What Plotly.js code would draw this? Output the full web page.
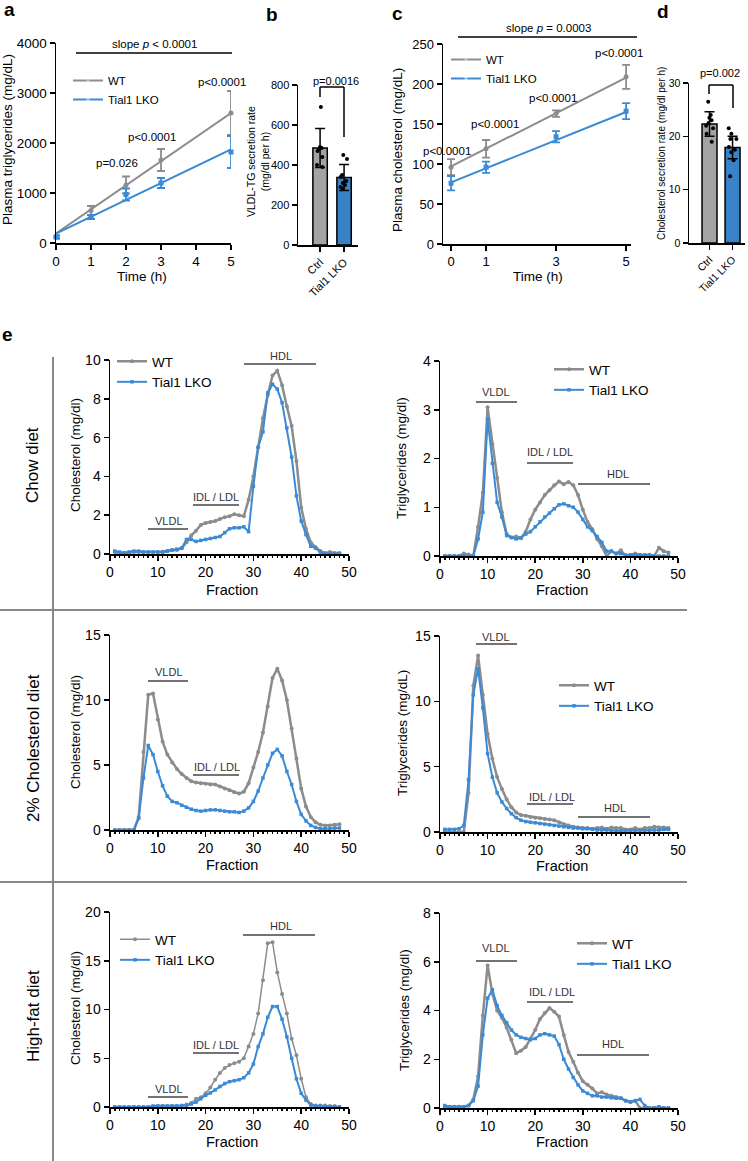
<!DOCTYPE html>
<html>
<head>
<meta charset="utf-8">
<script src="https://cdn.plot.ly/plotly-3.0.1.min.js"></script>
<style>html,body{margin:0;padding:0;background:#fff;}#chart{width:748px;height:1161px;}</style>
</head>
<body>
<div id="chart"></div>
<script>
// ---------- DATA ----------
// Panel a: plasma TG over time
const aTime = [0, 1, 2, 3, 5];
const aWT = [120, 650, 1160, 1660, 2600];
const aWTsd = [30, 90, 170, 220, 440];
const aKO = [120, 520, 970, 1200, 1820];
const aKOsd = [30, 40, 120, 100, 320];
const aFitTime = [0, 5];
const aWTfit = [190, 2600];
const aKOfit = [190, 1870];

// Panel b: VLDL-TG secretion rate
const groupCats = ['Ctrl', 'Tial1 LKO'];
const bMeans = [485, 338];
const bSD = [98, 65];
const bCtrlPts = [690, 490, 485, 480, 470, 440, 400, 390];
const bKOPts = [450, 430, 350, 340, 320, 310, 300, 290, 280];

// Panel c: plasma cholesterol over time
const cTime = [0, 1, 3, 5];
const cWT = [96, 119, 163, 209];
const cWTsd = [10, 11, 4, 15];
const cKO = [76, 96, 134, 166];
const cKOsd = [9, 7, 7, 10];
const cFitTime = [0, 5];
const cWTfit = [97, 208];
const cKOfit = [77, 165];

// Panel d: cholesterol secretion rate
const dMeans = [22.3, 17.9];
const dSD = [2.3, 2.1];
const dCtrlPts = [26.5, 24, 23.5, 23, 22.5, 22, 21.5, 20.5, 19.0];
const dKOPts = [21.5, 20.5, 19.5, 19.5, 18, 17.5, 17, 15.5, 12.5];

// Panel e: FPLC fractions
const fractions = [1,2,3,4,5,6,7,8,9,10,11,12,13,14,15,16,17,18,19,20,21,22,23,24,25,26,27,28,29,30,31,32,33,34,35,36,37,38,39,40,41,42,43,44,45,46,47,48];

const chowCholWT = [0.1,0.05,0.05,0.08,0.1,0.1,0.1,0.1,0.1,0.1,
  0.12,0.15,0.2,0.2,0.3,0.6,0.95,1.2,1.5,1.6,
  1.65,1.7,1.8,1.9,1.95,2.05,2.0,1.95,2.8,4.0,
  5.5,7.0,8.2,9.2,9.45,8.7,7.6,6.6,4.8,2.4,
  1.3,0.6,0.35,0.15,0.05,0.1,0.05,0.05];
const chowCholKO = [0.15,0.1,0.05,0.1,0.15,0.15,0.1,0.1,0.1,0.1,
  0.1,0.15,0.2,0.25,0.3,0.75,0.75,0.65,0.7,0.75,
  0.8,0.85,0.9,1.1,1.3,1.35,1.35,1.4,1.15,3.5,
  5.5,6.3,8.3,8.75,8.5,7.8,6.5,5.0,3.0,1.7,
  1.0,0.4,0.3,0.1,0.0,0.0,0.0,0.0];
const chowTGWT = [0,0,0,0,0.05,0.03,0,0.6,1.3,3.05,
  2.3,1.6,0.9,0.45,0.38,0.4,0.37,0.5,0.75,0.95,
  1.1,1.25,1.35,1.45,1.53,1.47,1.52,1.45,1.25,0.95,
  0.7,0.55,0.35,0.2,0.0,0.1,0.05,0.12,0.0,0.02,
  0.05,0.02,0.02,0.02,0.0,0.17,0.1,0.07];
const chowTGKO = [0,0,0,0,0,0,0,0.35,0.9,2.8,
  1.9,1.1,0.8,0.42,0.38,0.35,0.37,0.45,0.5,0.6,
  0.7,0.8,0.88,0.97,1.05,1.07,1.03,1.0,0.9,0.75,
  0.6,0.52,0.4,0.28,0.1,0.1,0.05,0.05,0.02,0.02,
  0.02,0.02,0.02,0.02,0,0,0,0];

const cholDietCholWT = [0,0,0,0,0,1.0,6.0,10.4,10.5,8.5,
  6.8,5.8,5.2,4.7,4.3,4.0,3.75,3.65,3.6,3.55,
  3.5,3.5,3.35,3.2,3.05,2.9,2.8,2.95,3.6,4.8,
  6.0,7.5,9.5,11.7,12.4,11.5,10.0,7.8,5.5,3.2,
  1.8,1.0,0.6,0.4,0.35,0.35,0.4,0.45];
const cholDietCholKO = [0,0,0,0,0,0.9,4.0,6.5,5.8,4.5,
  3.4,2.6,2.2,2.1,1.9,1.75,1.6,1.5,1.45,1.5,
  1.55,1.55,1.5,1.45,1.4,1.4,1.35,1.45,1.7,2.2,
  3.0,4.0,5.0,5.9,6.2,5.7,4.5,3.5,2.2,1.2,
  0.7,0.35,0.2,0.1,0.1,0.1,0.15,0.15];
const cholDietTGWT = [0,0,0,0,0,3.0,11.2,13.5,10.5,7.5,
  5.6,4.2,3.3,2.5,1.9,1.5,1.3,1.25,1.15,1.1,
  1.05,1.0,0.95,0.9,0.75,0.6,0.5,0.4,0.35,0.3,
  0.3,0.25,0.3,0.35,0.25,0.35,0.3,0.3,0.2,0.2,
  0.3,0.2,0.3,0.3,0.4,0.35,0.35,0.3];
const cholDietTGKO = [0.2,0.2,0.2,0.25,0.5,4.0,10.5,12.5,9.5,6.0,
  4.2,3.0,2.3,1.8,1.4,1.1,0.9,0.8,0.75,0.7,
  0.65,0.6,0.55,0.5,0.45,0.4,0.35,0.3,0.3,0.25,
  0.25,0.2,0.15,0.15,0.15,0.1,0.1,0.1,0.1,0.1,
  0.1,0.1,0.1,0.1,0.15,0.15,0.2,0.2];

const hfdCholWT = [0,0,0,0,0,0,0,0,0.05,0.1,
  0.1,0.1,0.1,0.1,0.15,0.25,0.4,0.85,1.0,1.4,
  2.0,2.8,3.5,4.0,4.3,4.5,4.65,5.0,6.2,7.5,
  9.6,13.0,16.8,16.9,13.8,11.6,9.6,7.0,5.3,2.9,
  1.0,0.3,0.15,0.15,0.15,0.1,0.1,0.0];
const hfdCholKO = [0,0,0,0,0,0,0,0,0.1,0.1,
  0.1,0.1,0.1,0.1,0.1,0.15,0.3,0.5,0.85,1.2,
  1.45,1.75,2.1,2.4,2.6,2.7,2.8,3.0,3.5,4.4,
  6.2,7.5,9.2,10.3,10.3,9.0,7.2,5.0,2.9,1.4,
  0.7,0.2,0.1,0.1,0.05,0,0,0];
const hfdTGWT = [0.05,0.05,0.05,0.05,0.05,0.1,0.35,1.3,3.8,5.85,
  4.7,4.0,3.7,3.3,2.8,2.25,2.35,2.5,2.85,3.2,
  3.65,3.9,4.1,3.95,3.75,3.0,2.3,1.9,1.45,1.1,
  0.95,0.8,0.6,0.65,0.55,0.5,0.45,0.4,0.3,0.25,
  0.3,0.0,0,0,0,0,0,0];
const hfdTGKO = [0.1,0.05,0.05,0.05,0.05,0.1,0.3,0.9,3.0,4.5,
  4.85,4.2,3.8,3.5,3.2,3.0,2.9,2.85,2.8,2.85,
  3.0,3.05,3.0,2.95,2.6,2.0,1.6,1.25,0.95,0.7,
  0.6,0.5,0.5,0.45,0.45,0.42,0.4,0.4,0.3,0.25,
  0.3,0.35,0.1,0,0,0.05,0,0];

// ---------- STYLE / LAYOUT ----------
const W = 748, H = 1161;
const FONT = 'Liberation Sans, Arial, Helvetica, sans-serif';
const GRAY = '#8c8c8c', BLUE = '#3a8ad6';
const BARGRAY = '#a3a3a3', BARBLUE = '#3a82c8';
const X = p => p / W;
const Y = p => 1 - p / H;
const tf = s => ({size: s, color: '#000', family: FONT});

function axis(extra) {
  return Object.assign({
    showgrid: false, zeroline: false, showline: true, linecolor: '#000', linewidth: 1.5,
    ticks: 'outside', ticklen: 5, tickwidth: 1.5, tickcolor: '#000', fixedrange: true,
    tickfont: tf(13)
  }, extra);
}
function xdom(a, b) { return [X(a), X(b)]; }
function ydom(bottom, top) { return [Y(bottom), Y(top)]; }

const traces = [];

// Panel a
traces.push({x: aFitTime, y: aWTfit, xaxis: 'x', yaxis: 'y', mode: 'lines+markers', name: 'WT',
  line: {color: GRAY, width: 2}, marker: {color: GRAY, size: [0, 0], symbol: 'circle'}, legend: 'legend', hoverinfo: 'skip'});
traces.push({x: aFitTime, y: aKOfit, xaxis: 'x', yaxis: 'y', mode: 'lines+markers', name: 'Tial1 LKO',
  line: {color: BLUE, width: 2}, marker: {color: BLUE, size: [0, 0], symbol: 'square'}, legend: 'legend', hoverinfo: 'skip'});
traces.push({x: aTime, y: aWT, xaxis: 'x', yaxis: 'y', mode: 'markers', showlegend: false, cliponaxis: false,
  marker: {color: GRAY, size: 5, symbol: 'circle'},
  error_y: {type: 'data', array: aWTsd, color: GRAY, thickness: 1.8, width: 4}, hoverinfo: 'skip'});
traces.push({x: aTime, y: aKO, xaxis: 'x', yaxis: 'y', mode: 'markers', showlegend: false, cliponaxis: false,
  marker: {color: BLUE, size: 5, symbol: 'square'},
  error_y: {type: 'data', array: aKOsd, color: BLUE, thickness: 1.8, width: 4}, hoverinfo: 'skip'});

// Panel b
traces.push({type: 'bar', x: groupCats, y: bMeans, xaxis: 'x2', yaxis: 'y2', width: 0.6, showlegend: false,
  marker: {color: [BARGRAY, BARBLUE], line: {color: '#000', width: 1.5}},
  error_y: {type: 'data', array: bSD, color: '#000', thickness: 1.5, width: 5}, hoverinfo: 'skip'});
traces.push({type: 'box', x: bCtrlPts.map(() => groupCats[0]).concat(bKOPts.map(() => groupCats[1])),
  y: bCtrlPts.concat(bKOPts), xaxis: 'x2', yaxis: 'y2', boxpoints: 'all', jitter: 0.8, pointpos: 0,
  width: 0.5, whiskerwidth: 0, fillcolor: 'rgba(0,0,0,0)', line: {width: 0, color: 'rgba(0,0,0,0)'},
  marker: {color: '#000', size: 4}, showlegend: false, hoverinfo: 'skip'});

// Panel c
traces.push({x: cFitTime, y: cWTfit, xaxis: 'x3', yaxis: 'y3', mode: 'lines+markers', name: 'WT',
  line: {color: GRAY, width: 2}, marker: {color: GRAY, size: [0, 0], symbol: 'circle'}, legend: 'legend2', hoverinfo: 'skip'});
traces.push({x: cFitTime, y: cKOfit, xaxis: 'x3', yaxis: 'y3', mode: 'lines+markers', name: 'Tial1 LKO',
  line: {color: BLUE, width: 2}, marker: {color: BLUE, size: [0, 0], symbol: 'square'}, legend: 'legend2', hoverinfo: 'skip'});
traces.push({x: cTime, y: cWT, xaxis: 'x3', yaxis: 'y3', mode: 'markers', showlegend: false, cliponaxis: false,
  marker: {color: GRAY, size: 5, symbol: 'circle'},
  error_y: {type: 'data', array: cWTsd, color: GRAY, thickness: 1.8, width: 4}, hoverinfo: 'skip'});
traces.push({x: cTime, y: cKO, xaxis: 'x3', yaxis: 'y3', mode: 'markers', showlegend: false, cliponaxis: false,
  marker: {color: BLUE, size: 5, symbol: 'square'},
  error_y: {type: 'data', array: cKOsd, color: BLUE, thickness: 1.8, width: 4}, hoverinfo: 'skip'});

// Panel d
traces.push({type: 'bar', x: groupCats, y: dMeans, xaxis: 'x4', yaxis: 'y4', width: 0.65, showlegend: false,
  marker: {color: [BARGRAY, BARBLUE], line: {color: '#000', width: 1.5}},
  error_y: {type: 'data', array: dSD, color: '#000', thickness: 1.5, width: 5}, hoverinfo: 'skip'});
traces.push({type: 'box', x: dCtrlPts.map(() => groupCats[0]).concat(dKOPts.map(() => groupCats[1])),
  y: dCtrlPts.concat(dKOPts), xaxis: 'x4', yaxis: 'y4', boxpoints: 'all', jitter: 0.8, pointpos: 0,
  width: 0.5, whiskerwidth: 0, fillcolor: 'rgba(0,0,0,0)', line: {width: 0, color: 'rgba(0,0,0,0)'},
  marker: {color: '#000', size: 4}, showlegend: false, hoverinfo: 'skip'});

// Panel e
function fracPair(xa, ya, wt, ko, legendId, wtWidth) {
  const show = !!legendId;
  traces.push({x: fractions, y: wt, xaxis: xa, yaxis: ya, mode: 'lines+markers', name: 'WT',
    showlegend: show, legend: legendId || 'legend', cliponaxis: false,
    line: {color: GRAY, width: wtWidth}, marker: {color: GRAY, size: 4, symbol: 'circle'}, hoverinfo: 'skip'});
  traces.push({x: fractions, y: ko, xaxis: xa, yaxis: ya, mode: 'lines+markers', name: 'Tial1 LKO',
    showlegend: show, legend: legendId || 'legend', cliponaxis: false,
    line: {color: BLUE, width: 2}, marker: {color: BLUE, size: 3.5, symbol: 'square'}, hoverinfo: 'skip'});
}
fracPair('x5', 'y5', chowCholWT, chowCholKO, 'legend3', 2.5);
fracPair('x6', 'y6', chowTGWT, chowTGKO, 'legend4', 2.5);
fracPair('x7', 'y7', cholDietCholWT, cholDietCholKO, null, 2.5);
fracPair('x8', 'y8', cholDietTGWT, cholDietTGKO, 'legend5', 2.5);
fracPair('x9', 'y9', hfdCholWT, hfdCholKO, 'legend6', 1.5);
fracPair('x10', 'y10', hfdTGWT, hfdTGKO, 'legend7', 2.5);

// ---------- AXES ----------
const fracX = (a, b, anchor) => axis({domain: xdom(a, b), range: [0, 50], anchor: anchor, dtick: 10, tickfont: tf(14),
  minor: {dtick: 1, ticks: 'outside', ticklen: 2.5, tickwidth: 1.5, tickcolor: '#000'}});

const layout = {
  width: W, height: H, margin: {l: 0, r: 0, t: 0, b: 0},
  paper_bgcolor: '#fff', plot_bgcolor: 'rgba(0,0,0,0)',
  font: {family: FONT, color: '#000'}, showlegend: true, hovermode: false,
  xaxis: axis({domain: xdom(56, 231), range: [0, 5], anchor: 'y', tickvals: [0, 1, 2, 3, 4, 5], tickfont: tf(13.5)}),
  yaxis: axis({domain: ydom(243, 43), range: [0, 4000], anchor: 'x', dtick: 1000, tickfont: tf(13.5)}),
  xaxis2: axis({domain: xdom(298, 358), type: 'category', range: [-0.92, 1.58], anchor: 'y2', tickangle: -45, tickfont: tf(11)}),
  yaxis2: axis({domain: ydom(245, 85), range: [0, 800], anchor: 'x2', dtick: 200, tickfont: tf(11)}),
  xaxis3: axis({domain: xdom(443, 631), range: [-0.23, 5.14], anchor: 'y3', tickvals: [0, 1, 3, 5], tickfont: tf(13)}),
  yaxis3: axis({domain: ydom(244, 44), range: [0, 250], anchor: 'x3', dtick: 50, tickfont: tf(13)}),
  xaxis4: axis({domain: xdom(689, 745), type: 'category', range: [-0.89, 1.54], anchor: 'y4', tickangle: -45, tickfont: tf(10.5)}),
  yaxis4: axis({domain: ydom(243, 83), range: [0, 30], anchor: 'x4', dtick: 10, tickfont: tf(10.5)}),
  xaxis5: fracX(110, 349, 'y5'),
  yaxis5: axis({domain: ydom(554, 360), range: [0, 10], anchor: 'x5', dtick: 2, tickfont: tf(14)}),
  xaxis6: fracX(440, 678, 'y6'),
  yaxis6: axis({domain: ydom(556, 361), range: [0, 4], anchor: 'x6', dtick: 1, tickfont: tf(14)}),
  xaxis7: fracX(110, 349, 'y7'),
  yaxis7: axis({domain: ydom(830, 635), range: [0, 15], anchor: 'x7', dtick: 5, tickfont: tf(14)}),
  xaxis8: fracX(440, 678, 'y8'),
  yaxis8: axis({domain: ydom(832, 636), range: [0, 15], anchor: 'x8', dtick: 5, tickfont: tf(14)}),
  xaxis9: fracX(110, 349, 'y9'),
  yaxis9: axis({domain: ydom(1107, 912), range: [0, 20], anchor: 'x9', dtick: 5, tickfont: tf(14)}),
  xaxis10: fracX(440, 678, 'y10'),
  yaxis10: axis({domain: ydom(1108, 913), range: [0, 8], anchor: 'x10', dtick: 2, tickfont: tf(14)}),
  annotations: [], shapes: []
};

// legends
function legendAt(px, pyTop, size) {
  return {x: X(px), y: Y(pyTop), xanchor: 'left', yanchor: 'top', bgcolor: 'rgba(0,0,0,0)',
    borderwidth: 0, font: tf(size), itemwidth: 30, traceorder: 'normal', tracegroupgap: 0};
}
layout.legend = legendAt(68, 66, 11.5);
layout.legend2 = legendAt(446, 45, 11.5);
layout.legend3 = legendAt(112, 346, 13.5);
layout.legend4 = legendAt(549, 354, 13.5);
layout.legend5 = legendAt(554, 670, 13.5);
layout.legend6 = legendAt(115, 924, 13.5);
layout.legend7 = legendAt(572, 928, 13.5);

// annotation helpers (pixel positions)
function ann(text, px, py, size, opt) {
  layout.annotations.push(Object.assign({text: text, x: X(px), y: Y(py), xref: 'paper', yref: 'paper',
    xanchor: 'center', yanchor: 'middle', showarrow: false, font: tf(size)}, opt || {}));
}
function seg(x0, y0, x1, y1, color, width) {
  layout.shapes.push({type: 'line', xref: 'paper', yref: 'paper', x0: X(x0), y0: Y(y0), x1: X(x1), y1: Y(y1),
    line: {color: color || '#000', width: width || 1.5}});
}

// panel letters
ann('<b>a</b>', 9, 9, 19);
ann('<b>b</b>', 272, 15, 19);
ann('<b>c</b>', 397, 13, 19);
ann('<b>d</b>', 663, 12, 19);
ann('<b>e</b>', 8, 335, 19);

// panel a texts
ann('Plasma triglycerides (mg/dL)', 8, 140, 13.5, {textangle: -90});
ann('Time (h)', 142, 276, 13.5);
ann('slope <i>p</i> &lt; 0.0001', 154, 44, 11.5);
seg(76, 53, 232, 53, '#000', 1.5);
ann('p=0.026', 117, 163, 11.5);
ann('p&lt;0.0001', 152, 137, 11.5);
ann('p&lt;0.0001', 222, 82, 11.5);

// panel b texts
ann('VLDL-TG secretion rate<br>(mg/dl per h)', 258, 162, 10.5, {textangle: -90});
seg(320, 97, 320, 87); seg(320, 87, 344, 87); seg(344, 87, 344, 137);
ann('p=0.0016', 336, 81, 11);

// panel c texts
ann('Plasma cholesterol (mg/dL)', 398, 150, 13.5, {textangle: -90});
ann('Time (h)', 538, 276, 13.5);
ann('slope <i>p</i> = 0.0003', 548, 28, 11.5);
seg(458, 37, 637, 37, '#000', 1.5);
ann('p&lt;0.0001', 447, 151, 11.5);
ann('p&lt;0.0001', 495, 124, 11.5);
ann('p&lt;0.0001', 553, 98, 11.5);
ann('p&lt;0.0001', 619, 53, 11.5);

// panel d texts
ann('Cholesterol secretion rate (mg/dl per h)', 662, 154, 10, {textangle: -90});
seg(709, 94, 709, 85); seg(709, 85, 733, 85); seg(733, 85, 733, 108);
ann('p=0.002', 720, 73, 11);

// panel e: row labels and separators
ann('Chow diet', 33, 465, 17, {textangle: -90});
ann('2% Cholesterol diet', 33, 748, 17, {textangle: -90});
ann('High-fat diet', 33, 1016, 17, {textangle: -90});
seg(53, 357, 53, 1161, '#888', 2);
seg(0, 610, 687, 610, '#888', 2);
seg(0, 882, 687, 882, '#888', 2);

// panel e: axis titles
ann('Cholesterol (mg/dl)', 75, 455, 13.5, {textangle: -90});
ann('Triglycerides (mg/dl)', 402, 458, 13.5, {textangle: -90});
ann('Cholesterol (mg/dl)', 75, 732, 13.5, {textangle: -90});
ann('Triglycerides (mg/dL)', 402, 733, 13.5, {textangle: -90});
ann('Cholesterol (mg/dl)', 75, 1008, 13.5, {textangle: -90});
ann('Triglycerides (mg/dl)', 404, 1010, 13.5, {textangle: -90});
[[232, 590], [562, 590], [232, 865], [562, 866], [232, 1142], [562, 1142]].forEach(p => ann('Fraction', p[0], p[1], 14.5));

// panel e: lipoprotein class labels
const LC = '#444';
function cls(text, tx, ty, lx0, lx1, ly) {
  ann(text, tx, ty, 11, {font: {size: 11, color: '#333', family: FONT}});
  seg(lx0, ly, lx1, ly, LC, 1.3);
}
cls('VLDL', 169, 521, 148, 188, 529);
cls('IDL / LDL', 216, 497, 193, 239, 505);
cls('HDL', 281, 356, 244, 316, 364);
cls('VLDL', 496, 392, 476, 517, 402);
cls('IDL / LDL', 550, 452, 527, 573, 463);
cls('HDL', 618, 474, 578, 650, 484);
cls('VLDL', 169, 672, 148, 188, 681);
cls('IDL / LDL', 217, 767, 193, 239, 775);
cls('VLDL', 496, 637, 476, 517, 644);
cls('IDL / LDL', 552, 797, 527, 573, 804);
cls('HDL', 615, 808, 578, 650, 817);
cls('VLDL', 169, 1089, 148, 188, 1097);
cls('IDL / LDL', 216, 1045, 193, 239, 1053);
cls('HDL', 281, 926, 243, 315, 935);
cls('VLDL', 496, 948, 476, 517, 961);
cls('IDL / LDL', 552, 992, 527, 573, 1002);
cls('HDL', 613, 1044, 577, 649, 1055);

Plotly.newPlot('chart', traces, layout, {staticPlot: true, displayModeBar: false});
</script>
</body>
</html>
